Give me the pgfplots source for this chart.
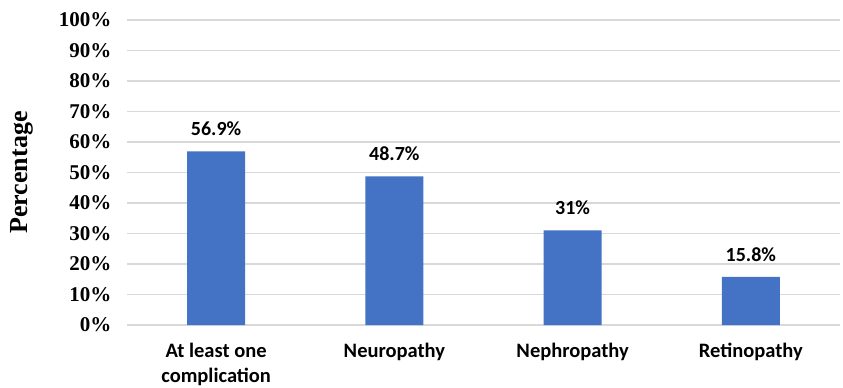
\documentclass[border=0pt]{standalone}
\usepackage{pgfplots}
\pgfplotsset{compat=1.18}
\usepackage{fontspec}
\setmainfont{Liberation Serif}
\newfontfamily\carlito{Carlito}
\definecolor{barblue}{HTML}{4472C4}
\definecolor{gridgray}{HTML}{D9D9D9}
\begin{document}
\begin{tikzpicture}
\path[use as bounding box] (-127pt,-63pt) rectangle (716pt,325pt);
\begin{axis}[
  at={(0pt,0pt)}, anchor=south west,
  scale only axis,
  width=713pt, height=305pt,
  xmin=-0.5, xmax=3.5,
  ymin=0, ymax=100,
  axis line style={draw=none},
  ybar, bar width=58pt,
  xtick={0,1,2,3},
  xticklabels={{At least one\\complication},Neuropathy,Nephropathy,Retinopathy},
  xticklabel style={font=\carlito\bfseries\fontsize{20.5}{25}\selectfont, align=center, anchor=north, yshift=-15pt},
  ytick={0,10,...,100},
  yticklabels={0\%,10\%,20\%,30\%,40\%,50\%,60\%,70\%,80\%,90\%,100\%},
  yticklabel style={font=\bfseries\fontsize{21}{24}\selectfont, xshift=-12pt},
  major tick length=0pt,
  ymajorgrids,
  grid style={gridgray, line width=1.5pt},
  ylabel={Percentage},
  every axis y label/.style={at={(-105pt,152.5pt)}, anchor=center, rotate=90, font=\bfseries\fontsize{26}{28}\selectfont},
  nodes near coords={\pgfplotspointmeta\%},
  nodes near coords style={font=\carlito\bfseries\fontsize{20}{24}\selectfont, anchor=south, yshift=12pt},
  point meta=explicit symbolic,
  clip=false,
]
\addplot[fill=barblue, draw=none] coordinates {(0,56.9) [56.9] (1,48.7) [48.7] (2,31) [31] (3,15.8) [15.8]};
\end{axis}
\end{tikzpicture}
\end{document}
